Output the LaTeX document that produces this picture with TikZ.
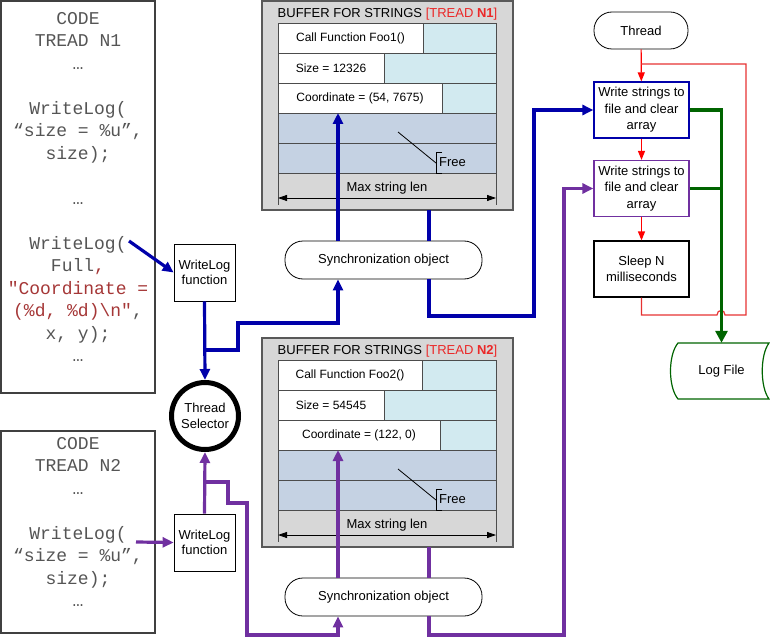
\documentclass[tikz,border=0pt]{standalone}
\usepackage{fontspec}
\setmainfont{Liberation Sans}
\newfontfamily\codefont{Liberation Mono}
\usetikzlibrary{arrows.meta}

\definecolor{lineblue}{RGB}{0,0,170}
\definecolor{linepurple}{RGB}{112,48,160}
\definecolor{linegreen}{RGB}{0,100,0}
\definecolor{loopred}{RGB}{230,50,50}
\definecolor{titlered}{RGB}{235,40,40}
\definecolor{codegray}{RGB}{85,85,85}
\definecolor{codered}{RGB}{165,55,55}
\definecolor{bufgray}{RGB}{215,215,215}
\definecolor{bufcyan}{RGB}{210,234,240}
\definecolor{buffree}{RGB}{197,210,227}

\tikzset{
  every node/.append style={font=\fontsize{13}{16}\selectfont},
  codebox/.style={draw=black!75, line width=1.2pt, minimum width=154, inner sep=0},
  codetext/.style={font=\codefont\fontsize{18}{22.5}\selectfont, text=codegray, align=center, inner sep=0},
  fnbox/.style={draw, line width=0.8pt, minimum width=61, minimum height=57, align=center, inner sep=0, font=\fontsize{13}{15}\selectfont},
  selector/.style={circle, draw, line width=5pt, minimum size=67, inner sep=0, align=center, font=\fontsize{13}{16}\selectfont},
  bufbox/.style={draw=black!65, line width=1.5pt, fill=bufgray, minimum width=251, minimum height=209, inner sep=0},
  rowbox/.style={draw=black!70, line width=0.8pt, minimum width=218, minimum height=30, inner sep=0},
  cellbox/.style={draw=black!70, line width=0.8pt, fill=white, minimum height=30, inner sep=0, font=\fontsize{12}{14}\selectfont},
  syncbox/.style={draw, line width=0.8pt, fill=white, rounded corners=18pt, minimum width=197, minimum height=38, inner sep=0},
  term/.style={draw, line width=0.8pt, rounded corners=18pt, minimum width=94, minimum height=37, inner sep=0},
  stepbox/.style={draw, line width=1.2pt, minimum width=95, minimum height=56, align=center, inner sep=0, font=\fontsize{13}{16.5}\selectfont},
  flow/.style={draw=#1, line width=3.2pt},
  tip/.style={-{Triangle[length=11pt,width=10pt]}},
  redflow/.style={draw=red, line width=1.2pt, -{Triangle[length=9pt,width=7pt]}},
  greenflow/.style={draw=linegreen, line width=3.5pt},
  dim/.style={line width=0.8pt, {Triangle[length=9pt,width=6pt]}-{Triangle[length=9pt,width=6pt]}}
}

\begin{document}
\begin{tikzpicture}[x=1pt, y=-1pt]
  \useasboundingbox (0,0) rectangle (770,639);

  % code of the two threads
  \node[codebox, minimum height=392] (code1) at (78,197) {};
  \node[codetext, anchor=north] (code1txt) at (78,12) {CODE\\TREAD N1\\…\\[22.5pt]WriteLog(\\“size = \%u”,\\size);\\[22.5pt]…\\[22.5pt]WriteLog(\\Full\textcolor{codered}{,}\\\textcolor{codered}{"Coordinate =}\\\textcolor{codered}{(\%d, \%d)\textbackslash n"},\\x, y);\\…};
  \node[codebox, minimum height=202] (code2) at (78,532) {};
  \node[codetext, anchor=north] (code2txt) at (78,437) {CODE\\TREAD N2\\…\\[22.5pt]WriteLog(\\“size = \%u”,\\size);\\…};
  \coordinate (c1) at (129,241);
  \coordinate (c2) at (136,542);

  \node[fnbox] (wl1) at (204.5,272.5) {WriteLog\\function};
  \node[fnbox] (wl2) at (204.5,542.5) {WriteLog\\function};
  \node[selector] (sel) at (205,416) {Thread\\Selector};

  % buffers and synchronization objects
  \foreach \n/\dy/\fn/\sz/\co/\wa/\wb/\wc/\lc in {1/0/Foo1/12326/{(54, 7675)}/145/106/164/lineblue, 2/337/Foo2/54545/{(122, 0)}/144/106/162/linepurple}{
    \node[bufbox] (buf\n) at (387.5,105.5+\dy) {};
    \node (b\n-title) at (387.5,14+\dy) {BUFFER FOR STRINGS \textcolor{titlered}{[TREAD \textbf{N\n}]}};
    \node[rowbox, fill=bufcyan] (b\n-r1) at (387,38+\dy) {};
    \node[rowbox, fill=bufcyan] (b\n-r2) at (387,68+\dy) {};
    \node[rowbox, fill=bufcyan] (b\n-r3) at (387,98+\dy) {};
    \node[rowbox, fill=buffree] (b\n-r4) at (387,128+\dy) {};
    \node[rowbox, fill=buffree] (b\n-r5) at (387,158+\dy) {};
    \node[cellbox, minimum width=\wa] (b\n-w1) at (278+\wa/2,38+\dy) {Call Function \fn()};
    \node[cellbox, minimum width=\wb] (b\n-w2) at (278+\wb/2,68+\dy) {Size = \sz};
    \node[cellbox, minimum width=\wc] (b\n-w3) at (278+\wc/2,98+\dy) {Coordinate = \co};
    \draw[line width=0.8pt] (398,132+\dy) -- (436,163+\dy);
    \draw[line width=0.8pt] (442,152+\dy) -| (436,173+\dy) -- (442,173+\dy);
    \node[anchor=west, inner sep=0] (b\n-free) at (439,162+\dy) {Free};
    \draw[line width=0.8pt, black!70] (278,173+\dy) -- (278,205+\dy);
    \draw[line width=0.8pt, black!70] (496,173+\dy) -- (496,205+\dy);
    \draw[dim] (278,198+\dy) -- (496,198+\dy);
    \node (b\n-len) at (387,188+\dy) {Max string len};
    \node[syncbox] (sync\n) at (383.5,260+\dy) {Synchronization object};
    \coordinate (b\n-in) at (338,113+\dy);
    \coordinate (b\n-out) at (429,210+\dy);
    \draw[flow=\lc, tip] (sync\n.north -| b\n-in) -- (b\n-in);
    \draw[flow=\lc] (b\n-out) -- (sync\n.north -| b\n-out);
  }

  % writer thread
  \node[term] (thr) at (641,30.5) {Thread};
  \node[stepbox, draw=lineblue] (wr1) at (641.5,110) {Write strings to\\file and clear\\array};
  \node[stepbox, draw=linepurple] (wr2) at (641.5,188.5) {Write strings to\\file and clear\\array};
  \node[stepbox] (slp) at (641.5,269) {Sleep N\\milliseconds};
  \draw[fill=white, draw=linegreen, line width=1.2pt] (678,343) -- (769,343) .. controls (760,355) and (760,387) .. (769,399) -- (678,399) .. controls (668,387) and (668,355) .. (678,343) -- cycle;
  \node[minimum width=95, minimum height=56, inner sep=0] (log) at (721.5,371) {Log File};

  % thread 1 connectors
  \draw[flow=lineblue, tip] (c1) -- (wl1.west);
  \draw[flow=lineblue, tip] (wl1.south) -- (sel.north);
  \draw[flow=lineblue, tip] (wl1.south |- 0,350) -- (238,350) -- (238,323) -| (sync1.south -| b1-in);
  \draw[flow=lineblue, tip] (sync1.south -| b1-out) |- (534,316) |- (wr1.west);

  % thread 2 connectors
  \draw[flow=linepurple, tip] (c2) -- (wl2.west);
  \draw[flow=linepurple, tip] (wl2.north) -- (sel.south);
  \draw[flow=linepurple, tip] (wl2.north |- 0,482) -- (228,482) -- (228,503) -- (247,503) -- (247,635) -| (sync2.south -| b2-in);
  \draw[flow=linepurple, tip] (sync2.south -| b2-out) |- (564,635) |- (wr2.west);

  % writer loop
  \draw[redflow] (thr) -- (wr1);
  \draw[redflow] (wr1) -- (wr2);
  \draw[redflow] (wr2) -- (slp);
  \draw[loopred, line width=1.2pt] (slp.south) -- (641.5,315) -- (717,315) .. controls (717,309) and (725,309) .. (725,315) -- (746,315) -- (746,64) -- (641,64);
  \draw[greenflow, -{Triangle[length=12pt,width=12pt]}] (wr1.east) -| (log.north);
  \draw[greenflow] (wr2.east) -- (wr2.east -| log.north);
\end{tikzpicture}
\end{document}
